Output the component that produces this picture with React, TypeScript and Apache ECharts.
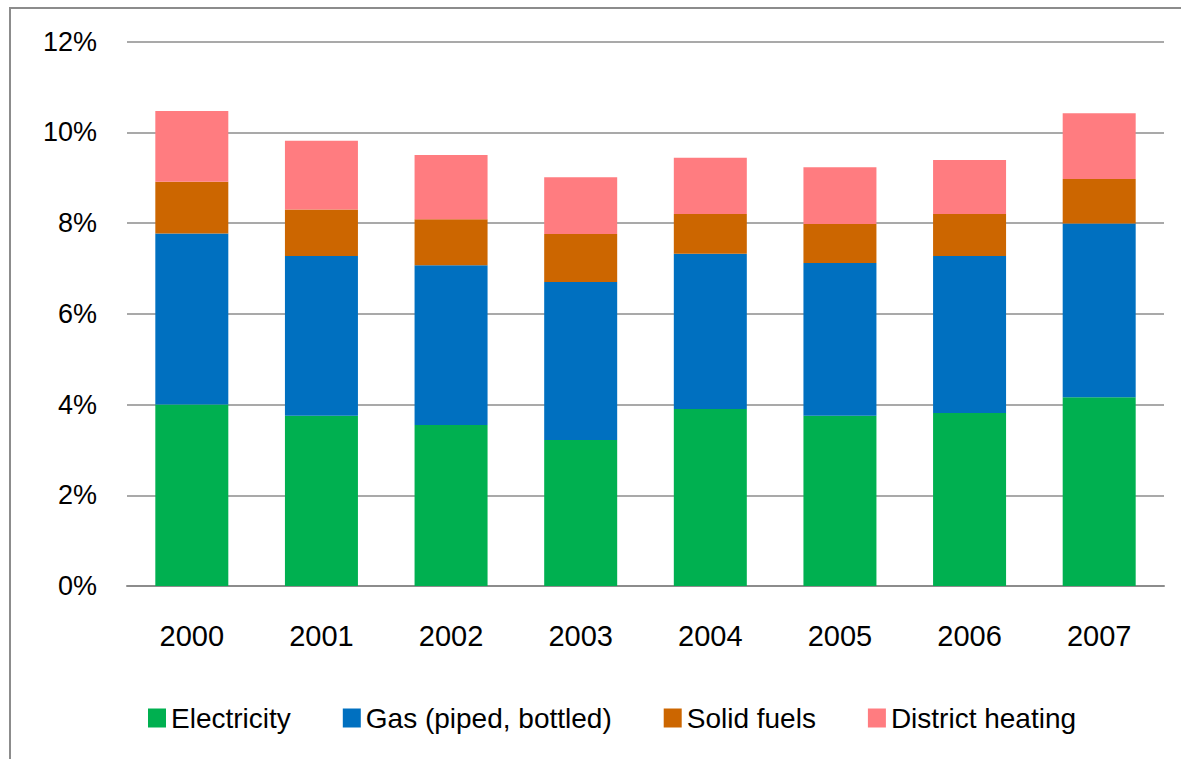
import React, { useEffect, useRef } from "react";
import * as echarts from "echarts";

const years = ["2000", "2001", "2002", "2003", "2004", "2005", "2006", "2007"];
const electricity = [4.0, 3.75, 3.55, 3.22, 3.9, 3.75, 3.81, 4.16];
const gas = [3.77, 3.52, 3.52, 3.48, 3.42, 3.37, 3.46, 3.83];
const solidFuels = [1.14, 1.03, 1.01, 1.06, 0.88, 0.86, 0.93, 0.98];
const districtHeating = [1.56, 1.51, 1.42, 1.25, 1.24, 1.25, 1.19, 1.45];
const seriesNames = ["Electricity", "Gas (piped, bottled)", "Solid fuels", "District heating"];
const colors = ["#00B050", "#0070C0", "#CC6600", "#FF7C80"];

const FONT = "Liberation Sans";

export default function App() {
  const ref = useRef<HTMLDivElement>(null);
  useEffect(() => {
    if (!ref.current) return;
    const chart = echarts.init(ref.current, null, { renderer: "svg" });
    const data = [electricity, gas, solidFuels, districtHeating];
    chart.setOption({
      animation: false,
      backgroundColor: "#ffffff",
      textStyle: { fontFamily: FONT },
      graphic: [
        {
          type: "rect",
          shape: { x: 10, y: 8, width: 1300, height: 900 },
          style: { fill: "none", stroke: "#8c8c8c", lineWidth: 2 },
          silent: true,
        },
      ],
      grid: { left: 127, right: 17, top: 41.5, bottom: 173 },
      legend: {
        left: 143,
        top: 699,
        itemWidth: 18,
        itemHeight: 19,
        itemGap: 52,
        icon: "rect",
        textStyle: { fontFamily: FONT, fontSize: 28, color: "#000" },
        data: seriesNames,
      },
      xAxis: {
        type: "category",
        data: years,
        axisLine: { lineStyle: { color: "#8c8c8c", width: 2 } },
        axisTick: { show: false },
        axisLabel: { fontFamily: FONT, fontSize: 29, color: "#000", margin: 35 },
      },
      yAxis: {
        type: "value",
        min: 0,
        max: 12,
        interval: 2,
        axisLine: { show: false },
        axisTick: { show: false },
        axisLabel: {
          fontFamily: FONT,
          fontSize: 27,
          color: "#000",
          margin: 30,
          formatter: "{value}%",
        },
        splitLine: { lineStyle: { color: "#8c8c8c", width: 1.5 } },
      },
      series: seriesNames.map((name, i) => ({
        name,
        type: "bar",
        stack: "total",
        data: data[i],
        barWidth: 73,
        itemStyle: { color: colors[i] },
      })),
    });
    return () => chart.dispose();
  }, []);
  return (
    <div
      ref={ref}
      style={{ position: "fixed", left: 0, top: 0, width: 1181, height: 759 }}
    />
  );
}
